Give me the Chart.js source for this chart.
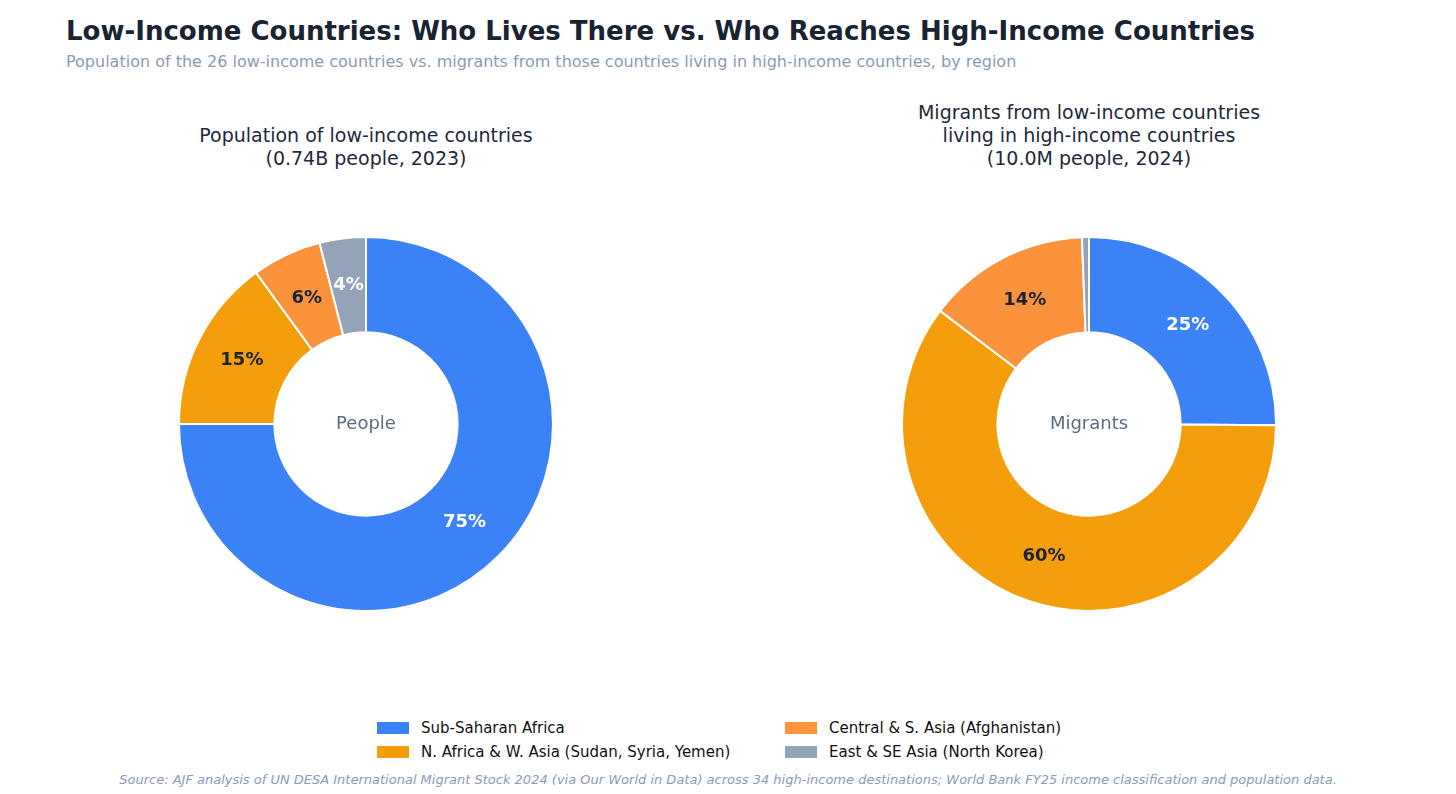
<!DOCTYPE html>
<html><head><meta charset="utf-8">
<script src="https://cdn.jsdelivr.net/npm/chart.js"></script>
<style>
  body{margin:0;width:1456px;height:794px;background:#fff;font-family:"DejaVu Sans",sans-serif;position:relative;overflow:hidden}
  .abs{position:absolute}
  #title{left:66px;top:16px;font-size:26px;font-weight:bold;color:#1a2332}
  #sub{left:66px;top:52px;font-size:16px;color:#8a9bb5}
  .ct{font-size:19px;color:#1e293b;text-align:center;line-height:23px;width:500px}
  .leg{font-size:15px;color:#111;display:flex;align-items:center}
  .leg i{display:inline-block;width:32px;height:12px;margin-right:12px}
  #foot{left:0;width:1456px;top:772px;text-align:center;font-size:13px;font-style:italic;color:#8a9bb5}
</style></head><body>
<div id="title" class="abs">Low-Income Countries: Who Lives There vs. Who Reaches High-Income Countries</div>
<div id="sub" class="abs">Population of the 26 low-income countries vs. migrants from those countries living in high-income countries, by region</div>
<div class="abs ct" style="left:116px;top:124px">Population of low-income countries<br>(0.74B people, 2023)</div>
<div class="abs ct" style="left:839px;top:101px">Migrants from low-income countries<br>living in high-income countries<br>(10.0M people, 2024)</div>
<div class="abs" style="left:178px;top:236px;width:376px;height:376px"><canvas id="c1"></canvas></div>
<div class="abs" style="left:901px;top:236px;width:376px;height:376px"><canvas id="c2"></canvas></div>
<div id="legend"></div>
<div id="foot" class="abs">Source: AJF analysis of UN DESA International Migrant Stock 2024 (via Our World in Data) across 34 high-income destinations; World Bank FY25 income classification and population data.</div>
<script>
const regions = ['Sub-Saharan Africa','N. Africa & W. Asia (Sudan, Syria, Yemen)','Central & S. Asia (Afghanistan)','East & SE Asia (North Korea)'];
const colors = ['#3b82f6','#f59e0b','#fb923c','#94a3b8'];
const labelColors = ['#ffffff','#1a2332','#1a2332','#ffffff'];
const populationShare = [75, 15, 6, 4];
const migrantShare = [25, 60, 14, 0.6];

// legend in two columns
const legPos = [[377,719],[377,743],[785,719],[785,743]];
const legEl = document.getElementById('legend');
regions.forEach((r,i)=>{
  const d = document.createElement('div');
  d.className = 'abs leg'; d.style.left = legPos[i][0]+'px'; d.style.top = legPos[i][1]+'px';
  d.innerHTML = '<i style="background:'+colors[i]+'"></i>'+r;
  legEl.appendChild(d);
});

const pctLabels = {
  id:'pctLabels',
  afterDatasetsDraw(chart, args, opts){
    const ctx = chart.ctx;
    const meta = chart.getDatasetMeta(0);
    ctx.save();
    ctx.textAlign='center'; ctx.textBaseline='middle';
    meta.data.forEach((arc,i)=>{
      const v = chart.data.datasets[0].data[i];
      if (v < 2) return;
      const p = arc.getCenterPoint ? arc.tooltipPosition() : null;
      const mid = (arc.startAngle+arc.endAngle)/2, r=(arc.innerRadius+arc.outerRadius)/2;
      ctx.font='bold 18px "DejaVu Sans"';
      ctx.fillStyle = labelColors[i];
      ctx.fillText(Math.round(v)+'%', arc.x+Math.cos(mid)*r, arc.y+Math.sin(mid)*r);
    });
    ctx.font='18px "DejaVu Sans"'; ctx.fillStyle='#5b6b82';
    ctx.fillText(opts.center, meta.data[0].x, meta.data[0].y);
    ctx.restore();
  }
};

function donut(id, data, center){
  new Chart(document.getElementById(id), {
    type:'doughnut',
    data:{labels:regions, datasets:[{data, backgroundColor:colors, borderColor:'#fff', borderWidth:2}]},
    options:{
      responsive:true, maintainAspectRatio:false, animation:false, cutout:'49%',
      plugins:{legend:{display:false}, tooltip:{enabled:false}, pctLabels:{center}}
    },
    plugins:[pctLabels]
  });
}
donut('c1', populationShare, 'People');
donut('c2', migrantShare, 'Migrants');
</script>
</body></html>
